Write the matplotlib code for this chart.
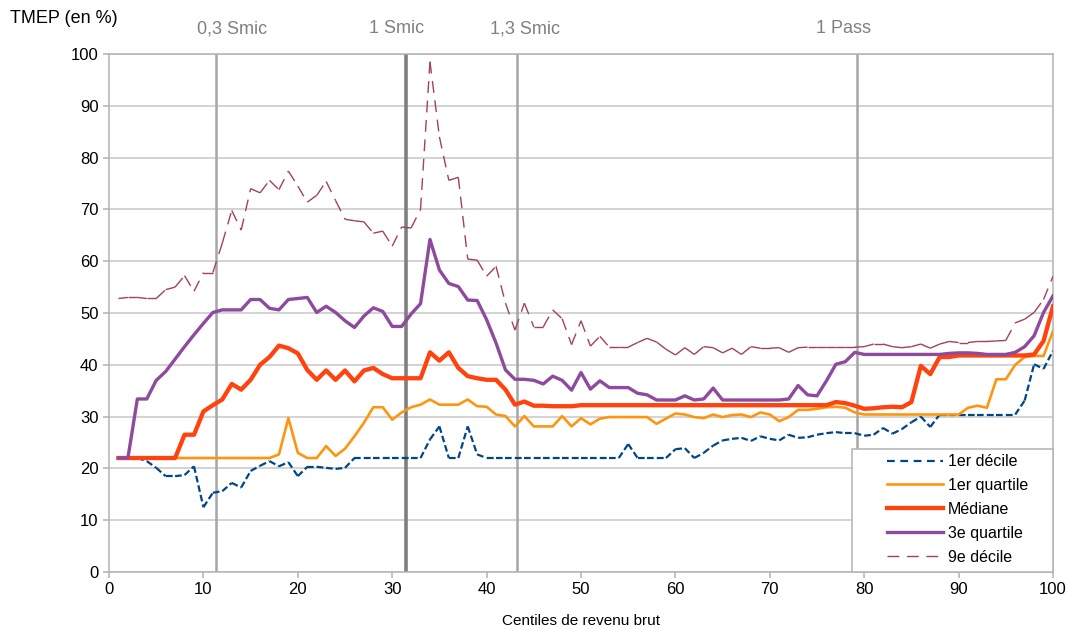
import numpy as np
import matplotlib
matplotlib.use("Agg")
import matplotlib.pyplot as plt
from matplotlib.collections import LineCollection
from matplotlib.lines import Line2D
from matplotlib.patches import Rectangle
from matplotlib.transforms import blended_transform_factory

plt.rcParams['font.family'] = ['Liberation Sans', 'DejaVu Sans']

# Centiles de revenu brut
centiles = np.arange(1, 101)

decile_1 = [
    22, 22, 22, 21.4, 20.1, 18.5, 18.5, 18.7, 20.4, 12.5,
    15.3, 15.6, 17.2, 16.3, 19.5, 20.5, 21.4, 20.4, 21.2, 18.5,
    20.3, 20.3, 20.1, 19.9, 20.1, 22, 22, 22, 22, 22,
    22, 22, 22, 25.6, 28.1, 22, 22, 28.1, 22.7, 22,
    22, 22, 22, 22, 22, 22, 22, 22, 22, 22,
    22, 22, 22, 22, 24.7, 22, 22, 22, 22, 23.7,
    23.9, 22, 23, 24.4, 25.4, 25.7, 25.9, 25.3, 26.2, 25.7,
    25.4, 26.5, 25.9, 26, 26.5, 26.8, 27, 26.8, 26.8, 26.3,
    26.5, 27.8, 26.7, 27.6, 28.9, 30, 28, 30.4, 30.4, 30.4,
    30.4, 30.4, 30.4, 30.4, 30.4, 30.4, 33.1, 40.1, 39.2, 42.7,
]

quartile_1 = [
    22, 22, 22, 22, 22, 22, 22, 22, 22, 22,
    22, 22, 22, 22, 22, 22, 22, 22.7, 29.7, 23,
    22, 22, 24.3, 22.4, 23.8, 26.2, 28.8, 31.8, 31.8, 29.4,
    30.8, 31.8, 32.3, 33.3, 32.3, 32.3, 32.3, 33.3, 32, 31.9,
    30.4, 30.1, 28.1, 30.1, 28.1, 28.1, 28.1, 30.1, 28.1, 29.7,
    28.5, 29.6, 29.9, 29.9, 29.9, 29.9, 29.9, 28.6, 29.6, 30.6,
    30.4, 29.9, 29.7, 30.4, 29.9, 30.3, 30.4, 29.9, 30.8, 30.4,
    29.1, 29.9, 31.3, 31.3, 31.5, 31.8, 31.9, 31.7, 30.8, 30.4,
    30.4, 30.4, 30.4, 30.4, 30.4, 30.4, 30.4, 30.4, 30.4, 30.4,
    31.7, 32.1, 31.7, 37.2, 37.2, 40, 41.5, 41.7, 41.7, 46.5,
]

mediane = [
    22, 22, 22, 22, 22, 22, 22, 26.5, 26.5, 31,
    32.2, 33.3, 36.3, 35.2, 37.1, 40, 41.5, 43.7, 43.2, 42.2,
    39, 37.1, 38.9, 37.1, 38.9, 36.8, 38.9, 39.4, 38.2, 37.4,
    37.4, 37.4, 37.4, 42.4, 40.8, 42.4, 39.4, 37.8, 37.4, 37.1,
    37.1, 35.2, 32.3, 32.9, 32.1, 32.1, 32, 32, 32, 32.2,
    32.2, 32.2, 32.2, 32.2, 32.2, 32.2, 32.2, 32.2, 32.2, 32.2,
    32.2, 32.2, 32.2, 32.2, 32.2, 32.2, 32.2, 32.2, 32.2, 32.2,
    32.2, 32.2, 32.2, 32.2, 32.2, 32.2, 32.8, 32.6, 32.1, 31.5,
    31.6, 31.8, 31.9, 31.8, 32.8, 39.8, 38.2, 41.5, 41.5, 41.8,
    41.8, 41.8, 41.8, 41.8, 41.8, 41.8, 41.8, 42, 44.6, 51.3,
]

quartile_3 = [
    22, 22, 33.4, 33.4, 37, 38.7, 41.1, 43.5, 45.8, 48,
    50.1, 50.6, 50.6, 50.6, 52.6, 52.6, 50.9, 50.6, 52.6, 52.8,
    53, 50.1, 51.3, 50.1, 48.5, 47.2, 49.4, 51, 50.3, 47.4,
    47.4, 49.8, 51.8, 64.2, 58.3, 55.7, 55.1, 52.5, 52.4, 48.7,
    44.2, 39, 37.2, 37.2, 37, 36.3, 37.8, 37, 35.1, 38.5,
    35.3, 36.9, 35.6, 35.6, 35.6, 34.5, 34.2, 33.2, 33.2, 33.2,
    34, 33.2, 33.4, 35.5, 33.2, 33.2, 33.2, 33.2, 33.2, 33.2,
    33.2, 33.4, 36, 34.2, 34, 36.9, 40.1, 40.6, 42.4, 42,
    42, 42, 42, 42, 42, 42, 42, 42, 42.2, 42.3,
    42.3, 42.2, 42, 42, 42, 42.4, 43.5, 45.6, 50.1, 53.3,
]

decile_9 = [
    52.8, 53, 53, 52.8, 52.8, 54.5, 55, 57.2, 54.2, 57.8,
    57.8, 63.5, 69.8, 66, 74, 73.2, 75.6, 73.8, 77.4, 74.5,
    71.4, 72.7, 75.4, 71.7, 68.1, 67.8, 67.6, 65.4, 65.8, 62.9,
    66.6, 66.4, 70, 98.5, 84, 75.6, 76.2, 60.4, 60.2, 57.1,
    59, 51.9, 46.7, 51.9, 47.3, 47.3, 50.6, 48.9, 43.9, 48.5,
    43.6, 45.5, 43.4, 43.4, 43.4, 44.3, 45.1, 44.4, 43, 41.9,
    43.3, 42, 43.5, 43.3, 42.3, 43.2, 42, 43.5, 43.2, 43.2,
    43.3, 42.4, 43.3, 43.4, 43.4, 43.4, 43.4, 43.4, 43.4, 43.5,
    44, 44, 43.5, 43.3, 43.5, 44, 43.2, 44, 44.5, 44.3,
    44.3, 44.5, 44.5, 44.6, 44.7, 48.1, 48.8, 50.1, 52.6, 57.1,
]

# Seuils de revenu marqués par des traits verticaux, et position de leur étiquette
seuils = [11.3, 31.5, 43.2, 79.2]
seuils_labels = ['0,3 Smic', '1 Smic', '1,3 Smic', '1 Pass']
seuils_label_x = [13.0, 30.5, 44.1, 77.8]


def dashed_segments(ax, x, y, color, lw, dash, zorder):
    # tirets recommencés à chaque segment, comme dans le tableur d'origine
    pts = np.column_stack([x, y])
    segs = np.stack([pts[:-1], pts[1:]], axis=1)
    lc = LineCollection(segs, colors=color, linewidths=lw,
                        linestyles=[(0, dash)], zorder=zorder,
                        capstyle='butt')
    ax.add_collection(lc)


fig = plt.figure(figsize=(10.7, 6.3), dpi=100)
ax = fig.add_axes([0.1019, 0.0921, 0.8822, 0.8222])

# Traits verticaux des seuils
for s, lab in zip(seuils, seuils_labels):
    if lab == '1 Smic':
        ax.axvline(s, color='#7f7f7f', lw=2.6, zorder=1)
    else:
        ax.axvline(s, color='#a6a6a6', lw=1.8, zorder=1)
trans = blended_transform_factory(ax.transData, ax.transAxes)
for xl, lab in zip(seuils_label_x, seuils_labels):
    ax.text(xl, 1.049, lab, transform=trans, ha='center', va='center',
            fontsize=13, color='#808080')

# Courbes
c_d1, c_q1, c_med, c_q3, c_d9 = '#004586', '#ff950e', '#ff420e', '#8e4a9d', '#a3405f'
dashed_segments(ax, centiles, decile_1, c_d1, 1.6, (3.0, 1.4), 3)
ax.plot(centiles, quartile_1, color=c_q1, lw=1.9, zorder=4)
ax.plot(centiles, mediane, color=c_med, lw=3.1, zorder=5)
ax.plot(centiles, quartile_3, color=c_q3, lw=2.4, zorder=6)
dashed_segments(ax, centiles, decile_9, c_d9, 1.0, (8.5, 5.5), 7)

# Axes et grille
ax.set_xlim(0, 100)
ax.set_ylim(0, 100)
ax.set_xticks(range(0, 101, 10))
ax.set_yticks(range(0, 101, 10))
ax.yaxis.grid(True, color='#c8c8c8', lw=1.1)
ax.set_axisbelow(True)
for sp in ax.spines.values():
    sp.set_color('#b3b3b3')
    sp.set_linewidth(1.1)
ax.tick_params(axis='both', colors='#b3b3b3', labelcolor='black',
               labelsize=12, length=4, width=1.1, direction='out')

ax.set_xlabel('Centiles de revenu brut', fontsize=11, labelpad=12)
fig.text(0.009, 0.971, 'TMEP (en %)', ha='left', va='center', fontsize=13)

# Légende : cadre dessiné à part, entrées posées dedans
ax.add_patch(Rectangle((0.787, 0.0), 0.213, 0.2375, transform=ax.transAxes,
                       facecolor='white', edgecolor='#b3b3b3', lw=1.1,
                       zorder=9, clip_on=False))
handles = [
    Line2D([], [], color=c_d1, lw=1.6, dashes=(3.5, 2.5)),
    Line2D([], [], color=c_q1, lw=1.9),
    Line2D([], [], color=c_med, lw=3.1),
    Line2D([], [], color=c_q3, lw=2.4),
    Line2D([], [], color=c_d9, lw=1.0, dashes=(8.5, 5.5)),
]
labels = ['1er décile', '1er quartile', 'Médiane', '3e quartile', '9e décile']
leg = ax.legend(handles, labels, loc='upper left', bbox_to_anchor=(0.824, 0.2275),
                borderaxespad=0, borderpad=0, fontsize=11.5, frameon=False,
                handlelength=3.5, handletextpad=0.3, labelspacing=0.56)
leg.set_zorder(10)

fig.savefig('out.png', dpi=100)
